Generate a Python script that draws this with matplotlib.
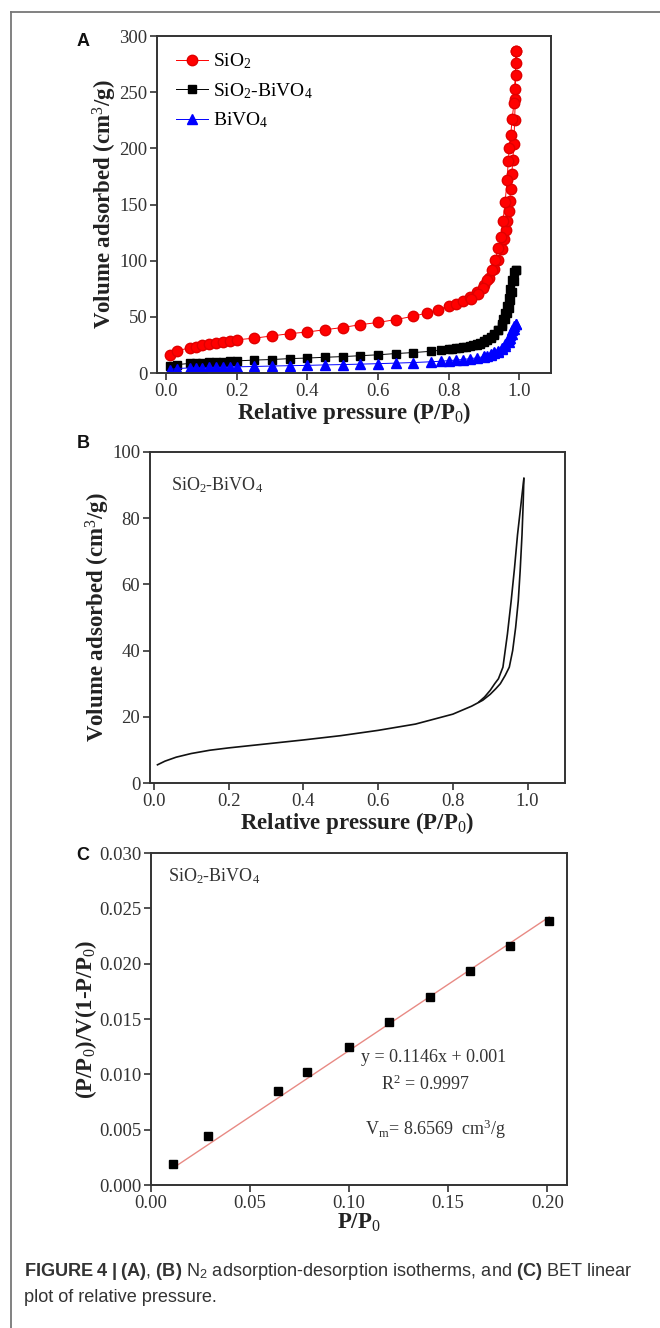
import numpy as np
import matplotlib
matplotlib.use("Agg")
import matplotlib.pyplot as plt
from matplotlib.lines import Line2D

plt.rcParams['font.family'] = ['Liberation Serif', 'DejaVu Serif']
plt.rcParams['mathtext.fontset'] = 'custom'
plt.rcParams['mathtext.rm'] = 'Liberation Serif'
plt.rcParams['mathtext.it'] = 'Liberation Serif:italic'
plt.rcParams['mathtext.bf'] = 'Liberation Sans:bold'
plt.rcParams['mathtext.sf'] = 'Liberation Sans'

# ---- panel A data ----
sio2_ads_x = [0.012, 0.031, 0.067, 0.085, 0.103, 0.122, 0.142, 0.162, 0.181, 0.202,
              0.25, 0.30, 0.35, 0.40, 0.45, 0.50, 0.55, 0.60, 0.65, 0.70, 0.74, 0.77,
              0.80, 0.82, 0.84, 0.86, 0.88, 0.90, 0.915, 0.93, 0.94, 0.95, 0.957, 0.962,
              0.966, 0.97, 0.973, 0.976, 0.979, 0.982, 0.985, 0.987, 0.989, 0.989, 0.99,
              0.99, 0.992]
sio2_ads_y = [16, 19.5, 22.5, 23.5, 24.5, 25.8, 27, 28, 28.8, 29.6,
              31, 33, 35, 36.5, 38.5, 40.5, 43, 45, 47.5, 50.5, 53.5, 56.5,
              59.5, 61.5, 64.5, 68, 72, 78, 85, 93, 101, 110, 119, 127,
              135, 144, 153, 164, 177, 190, 204, 225, 244, 253, 265,
              276, 287]
sio2_des_x = [0.992, 0.985, 0.98, 0.976, 0.972, 0.969, 0.966, 0.96, 0.954, 0.948,
              0.941, 0.932, 0.922, 0.91, 0.897, 0.882, 0.865]
sio2_des_y = [287, 240, 226, 212, 200, 189, 172, 152, 135, 121,
              111, 101, 92, 83, 76, 70, 66]

bv_ads_x = [0.012, 0.031, 0.067, 0.085, 0.103, 0.122, 0.142, 0.162, 0.181, 0.202,
            0.25, 0.30, 0.35, 0.40, 0.45, 0.50, 0.55, 0.60, 0.65, 0.70, 0.75, 0.78,
            0.80, 0.81, 0.82, 0.83, 0.84, 0.85, 0.86, 0.87, 0.88, 0.89, 0.90, 0.91,
            0.92, 0.93, 0.94, 0.95, 0.96, 0.965, 0.97, 0.975, 0.98, 0.985, 0.99]
bv_ads_y = [6, 7.5, 8.5, 9, 9.3, 9.6, 10, 10.2, 10.5, 10.8,
            11.5, 12, 12.8, 13.3, 14, 14.6, 15.4, 16.2, 17.3, 18.2, 19.3, 20.5,
            21, 21.5, 22, 22.5, 23, 23.5, 24, 25, 26, 27, 28.5, 30,
            32, 34.5, 38, 42, 48, 53, 58, 65, 72, 82, 92]
bv_des_x = [0.99, 0.985, 0.98, 0.975, 0.97, 0.965, 0.96, 0.955, 0.95, 0.94,
            0.93, 0.92, 0.91, 0.90, 0.89, 0.88]
bv_des_y = [92, 90, 83, 75, 67, 60, 53, 48, 44, 38, 34, 31, 29, 27.5, 26, 25]

bi_ads_x = [0.012, 0.031, 0.067, 0.085, 0.103, 0.122, 0.142, 0.162, 0.181, 0.202,
            0.25, 0.30, 0.35, 0.40, 0.45, 0.50, 0.55, 0.60, 0.65, 0.70, 0.75, 0.78,
            0.80, 0.82, 0.84, 0.86, 0.88, 0.90, 0.91, 0.92, 0.93, 0.94, 0.95, 0.96,
            0.97, 0.975, 0.98, 0.985, 0.99]
bi_ads_y = [3, 4, 4.5, 4.7, 4.8, 5, 5, 5.2, 5.3, 5.5,
            5.8, 6.2, 6.5, 6.8, 7.2, 7.5, 7.9, 8.3, 8.8, 9.3, 10, 10.5,
            11, 11.5, 12, 12.7, 13.5, 14.5, 15.3, 16.3, 17.5, 19, 21, 24,
            28, 31, 35, 39, 44]
bi_des_x = [0.99, 0.985, 0.98, 0.975, 0.97, 0.96, 0.95, 0.94, 0.93, 0.92, 0.90]
bi_des_y = [44, 42, 38, 34, 30, 26, 22.5, 20, 18.5, 17, 15]

# ---- panel B data ----
iso_ads_x = [0.01, 0.03, 0.06, 0.10, 0.15, 0.20, 0.30, 0.40, 0.50, 0.60, 0.70,
             0.80, 0.85, 0.88, 0.90, 0.915, 0.927, 0.94, 0.951, 0.96, 0.968,
             0.975, 0.98, 0.985, 0.988, 0.99]
iso_ads_y = [5.5, 6.6, 7.8, 8.9, 9.9, 10.6, 11.8, 13.0, 14.3, 15.9, 17.8,
             20.8, 23.2, 25.0, 26.8, 28.5, 30, 32.5, 35, 40, 47,
             55, 64, 75, 84, 92]
iso_des_x = [0.99, 0.982, 0.973, 0.965, 0.956, 0.946, 0.934, 0.922, 0.912, 0.90,
             0.885, 0.87]
iso_des_y = [92, 84, 75, 65, 55, 45, 35, 31.5, 30, 28, 26, 24.5]

# ---- panel C data ----
bet_x = [0.011, 0.029, 0.064, 0.079, 0.100, 0.120, 0.141, 0.161, 0.181, 0.201]
bet_y = [0.0019, 0.0044, 0.0085, 0.0102, 0.0125, 0.0147, 0.0170, 0.0193, 0.0216, 0.0239]
fit_slope = 0.1195
fit_intercept = 0.0002

W, H = 660, 1328
fig = plt.figure(figsize=(W / 100, H / 100), dpi=100)


def px_axes(left, top, right, bottom):
    return fig.add_axes([left / W, 1 - bottom / H, (right - left) / W, (bottom - top) / H])


def style(ax):
    for s in ax.spines.values():
        s.set_linewidth(1.4)
        s.set_color('#333333')
    ax.tick_params(direction='out', length=5, width=1.2, labelsize=13.5, pad=2,
                   top=False, right=False, colors='#333333', labelcolor='#333333')


lab_kw = dict(fontsize=16.5, fontweight='bold', color='#222222')

# ---- A ----
axA = px_axes(157, 36, 551, 373)
style(axA)
axA.plot(sio2_ads_x + sio2_des_x, sio2_ads_y + sio2_des_y, '-o', color='#ff0000',
         lw=0.7, ms=7.5, mec='#e00000', label='SiO$_2$')
axA.plot(bv_ads_x + bv_des_x, bv_ads_y + bv_des_y, '-s', color='#000000',
         lw=0.7, ms=6, label='SiO$_2$-BiVO$_4$')
axA.plot(bi_ads_x + bi_des_x, bi_ads_y + bi_des_y, '-^', color='#0000ff',
         lw=0.7, ms=6.5, label='BiVO$_4$')
axA.set_xlim(-0.025, 1.09)
axA.set_ylim(0, 300)
axA.set_xticks(np.arange(0, 1.01, 0.2))
axA.set_yticks(np.arange(0, 301, 50))
axA.set_xlabel('Relative pressure (P/P$_0$)', labelpad=0, **lab_kw)
axA.set_ylabel('Volume adsorbed (cm$^3$/g)', labelpad=0, **lab_kw)
axA.legend(loc='upper left', frameon=False, fontsize=14, handlelength=1.6,
           handletextpad=0.3, labelspacing=0.5, borderaxespad=0.4,
           bbox_to_anchor=(0.01, 1.0))

# ---- B ----
axB = px_axes(150, 452, 565, 783)
style(axB)
axB.plot(iso_ads_x, iso_ads_y, color='#111111', lw=1.2)
axB.plot(iso_des_x, iso_des_y, color='#111111', lw=1.2)
axB.set_xlim(-0.01, 1.1)
axB.set_ylim(0, 100)
axB.set_xticks(np.arange(0, 1.01, 0.2))
axB.set_yticks(np.arange(0, 101, 20))
axB.set_xlabel('Relative pressure (P/P$_0$)', labelpad=0, **lab_kw)
axB.set_ylabel('Volume adsorbed (cm$^3$/g)', labelpad=0, **lab_kw)
axB.text(0.05, 0.9, 'SiO$_2$-BiVO$_4$', transform=axB.transAxes, fontsize=13,
         color='#333333', va='center')

# ---- C ----
axC = px_axes(151, 853, 567, 1185)
style(axC)
xf = np.array([bet_x[0], bet_x[-1]])
axC.plot(xf, fit_slope * xf + fit_intercept, color='#e88a84', lw=1.0)
axC.plot(bet_x, bet_y, 's', color='#000000', ms=6)
axC.set_xlim(0, 0.21)
axC.set_ylim(0, 0.03)
axC.set_xticks(np.arange(0, 0.201, 0.05))
axC.set_yticks(np.arange(0, 0.0301, 0.005))
axC.xaxis.set_major_formatter(matplotlib.ticker.FormatStrFormatter('%.2f'))
axC.yaxis.set_major_formatter(matplotlib.ticker.FormatStrFormatter('%.3f'))
axC.set_xlabel('P/P$_0$', labelpad=0, **lab_kw)
axC.set_ylabel('(P/P$_0$)/V(1-P/P$_0$)', labelpad=0, **lab_kw)
axC.text(0.04, 0.93, 'SiO$_2$-BiVO$_4$', transform=axC.transAxes, fontsize=13,
         color='#333333', va='center')
axC.text(0.106, 0.0111, 'y = 0.1146x + 0.001', fontsize=13, color='#333333')
axC.text(0.116, 0.0086, 'R$^2$ = 0.9997', fontsize=13, color='#333333')
axC.text(0.108, 0.0045, 'V$_\\mathrm{m}$= 8.6569  cm$^3$/g', fontsize=13, color='#333333')

# panel letters
for letter, (x, y) in zip(['A', 'B', 'C'], [(83, 42), (83, 444), (83, 856)]):
    fig.text(x / W, 1 - y / H, letter, family='Liberation Sans', fontweight='bold',
             fontsize=13, ha='center', va='center', color='#111111')

# caption
cap1 = (r'$\bf{FIGURE\ 4\ |\ (A)}$, $\bf{(B)}$ N$_\mathsf{2}$ adsorption-desorption '
        r'isotherms, and $\bf{(C)}$ BET linear')
cap2 = 'plot of relative pressure.'
fig.text(24 / W, 1 - 1272 / H, cap1, family='Liberation Sans', fontsize=13.1,
         va='center', color='#333333')
fig.text(24 / W, 1 - 1298 / H, cap2, family='Liberation Sans', fontsize=13.1,
         va='center', color='#333333')

# frame lines
fig.add_artist(Line2D([11 / W, 11 / W], [0, 1 - 12 / H], color='#777777', lw=1.3))
fig.add_artist(Line2D([11 / W, 1], [1 - 12 / H, 1 - 12 / H], color='#777777', lw=1.3))

fig.savefig('out.png', dpi=100)
